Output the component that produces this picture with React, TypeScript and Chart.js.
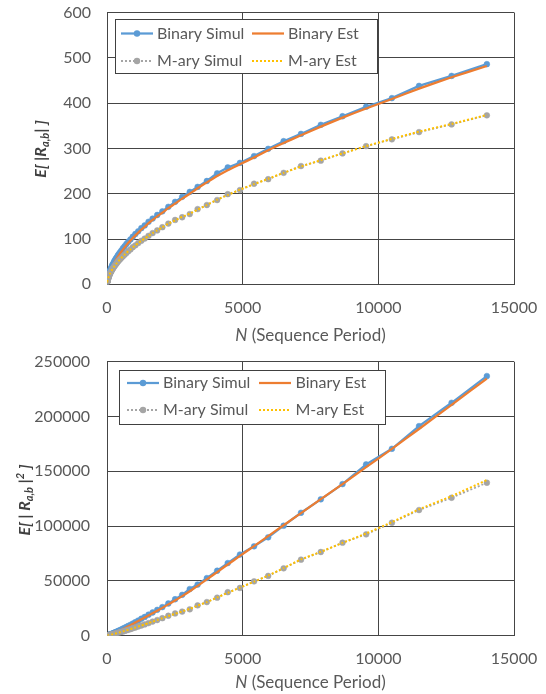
import React, { useEffect, useRef } from "react";
import { Chart, registerables } from "chart.js";

Chart.register(...registerables);

// Sequence period N (x values shared by all series)
const N = [10, 11, 12, 13, 15, 16, 18, 20, 22, 24, 27, 30, 33, 36, 40, 44, 48, 53, 58, 64, 71, 78, 86, 95, 105, 115, 127, 140, 154, 169, 186, 205, 225, 248, 272, 300, 330, 365, 400, 440, 485, 535, 590, 650, 715, 785, 865, 950, 1045, 1150, 1265, 1390, 1530, 1680, 1850, 2040, 2260, 2510, 2770, 3050, 3340, 3680, 4060, 4450, 4900, 5420, 5940, 6510, 7150, 7880, 8680, 9550, 10500, 11500, 12700, 14000];

// Top chart: E[|R_a,b|]
const binSimulAbs = [6, 6.5, 7, 7.5, 8, 8.5, 9, 10, 10.5, 11, 12, 13, 14, 15, 16, 17, 18, 19, 20, 21, 23, 24, 25, 27, 29, 30, 32, 34, 36, 38, 41, 43, 45, 48, 51, 54, 57, 60, 64, 67, 71, 75, 80, 84, 89, 94, 99, 105, 111, 117, 124, 130, 138, 145, 153, 161, 171, 182, 193, 204, 215, 228, 245, 258, 268, 283, 299, 316, 332, 352, 371, 392, 411, 438, 460, 486];
const binEstAbs = [5.5, 6, 6.5, 7, 7.5, 8, 8.5, 9.5, 10, 10.5, 11.5, 12.5, 13.5, 14.5, 15, 16, 17, 18, 19, 20, 21.5, 22.5, 24, 25.5, 27, 28.5, 30, 32, 34, 36, 38.5, 40.5, 43, 45.5, 48, 51, 54, 57.5, 61, 64.5, 68.5, 72.5, 77, 81.5, 86.5, 91.5, 96.5, 102, 108, 114, 121, 127, 135, 142, 150, 158, 168, 178, 189, 200, 212, 225, 239, 252, 265, 280, 296, 312, 329, 348, 368, 388, 409, 432, 457, 482];
const marySimulAbs = [5, 5, 5.5, 6, 6.5, 7, 7.5, 8, 8.5, 9, 9.5, 10.5, 11, 12, 12.5, 13.5, 14, 15, 16, 17, 18, 19, 20, 21.5, 23, 24, 25.5, 27, 28.5, 30, 32, 34, 35.5, 37.5, 40, 42, 44.5, 47, 50, 52.5, 55.5, 58.5, 62, 65.5, 69, 73, 77, 82, 86, 91, 96, 101, 107, 113, 119, 126, 134, 142, 148, 155, 166, 175, 186, 199, 208, 222, 232, 246, 261, 273, 289, 305, 320, 336, 353, 373];
const maryEstAbs = [5, 5, 5.5, 6, 6.5, 7, 7.5, 8, 8.5, 9, 9.5, 10.5, 11, 12, 12.5, 13.5, 14, 15, 16, 17, 18, 19, 20, 21.5, 23, 24, 25.5, 27, 28.5, 30, 32, 34, 35.5, 37.5, 40, 42, 44.5, 47, 50, 52.5, 55.5, 58.5, 62, 65.5, 69, 73, 77, 81.5, 86, 91, 96, 101, 107, 113, 119, 126, 134, 141, 149, 156, 165, 175, 187, 197, 209, 221, 233, 246, 260, 274, 289, 305, 321, 337, 354, 374];

// Bottom chart: E[|R_a,b|^2]
const binSimulSq = [36, 42, 49, 56, 64, 72, 81, 100, 110, 120, 145, 170, 195, 225, 255, 290, 325, 360, 400, 440, 530, 575, 625, 730, 840, 900, 1020, 1160, 1300, 1440, 1680, 1850, 2030, 2300, 2600, 2900, 3250, 3600, 4100, 4500, 5000, 5600, 6400, 7100, 7900, 8800, 9800, 11000, 12300, 13700, 15400, 17000, 19100, 21100, 23500, 26000, 29300, 33200, 37200, 42500, 46600, 52500, 59200, 66200, 74000, 81500, 89700, 100300, 112100, 124400, 138300, 156300, 170500, 191200, 212500, 236900];
const binEstSq = [32, 38, 44, 50, 58, 66, 75, 90, 100, 115, 135, 160, 185, 210, 240, 270, 300, 340, 380, 420, 480, 540, 600, 690, 780, 860, 960, 1080, 1220, 1380, 1550, 1750, 1950, 2200, 2450, 2750, 3100, 3450, 3900, 4300, 4800, 5400, 6100, 6800, 7600, 8500, 9500, 10600, 11900, 13300, 14900, 16500, 18400, 20400, 22700, 25300, 28500, 32000, 36000, 40500, 45400, 51300, 58000, 64900, 72700, 81700, 90800, 100700, 111800, 124500, 138300, 153700, 170400, 188600, 210600, 234600];
const marySimulSq = [25, 25, 30, 36, 42, 49, 56, 64, 72, 81, 90, 110, 121, 144, 156, 182, 196, 225, 256, 290, 325, 360, 400, 460, 530, 580, 650, 730, 810, 900, 1020, 1160, 1260, 1400, 1600, 1760, 1980, 2200, 2500, 2750, 3080, 3400, 3850, 4300, 4800, 5300, 5900, 6700, 7400, 8300, 9200, 10200, 11400, 12800, 14200, 15900, 18100, 20200, 21900, 24000, 27600, 30600, 34600, 39600, 43500, 49500, 54500, 61400, 69300, 76300, 84800, 92400, 103000, 114600, 125800, 139500];
const maryEstSq = [25, 25, 30, 36, 42, 49, 56, 64, 72, 81, 90, 110, 121, 144, 156, 182, 196, 225, 256, 290, 325, 360, 400, 460, 530, 580, 650, 730, 810, 900, 1020, 1160, 1260, 1400, 1600, 1760, 1980, 2200, 2500, 2750, 3080, 3400, 3850, 4300, 4800, 5300, 5900, 6650, 7400, 8300, 9200, 10200, 11400, 12700, 14200, 15900, 17900, 19900, 22100, 24400, 27300, 30600, 34800, 39000, 43800, 49200, 54800, 61600, 69500, 76500, 84600, 93200, 103600, 115300, 127300, 142000];

// Axis settings
const xMax = 15000;
const xStep = 5000;
const yMaxAbs = 600;
const yStepAbs = 100;
const yMaxSq = 250000;
const yStepSq = 50000;

const legendLabels = ["Binary Simul", "Binary Est", "M-ary Simul", "M-ary Est"];
const xTitleItalic = "N";
const xTitleRest = " (Sequence Period)";

const BLUE = "#5B9BD5";
const ORANGE = "#ED7D31";
const GRAY = "#A5A5A5";
const YELLOW = "#FFC000";
const TEXT = "#595959";
const GRID = "#454545";
const FONT = "Lato, 'Open Sans', sans-serif";

type Seg = { t: string; size: number; style: string; dy?: number };

function drawRich(ctx: CanvasRenderingContext2D, segs: Seg[], cx: number, cy: number, rotate: boolean, color: string) {
  ctx.save();
  ctx.translate(cx, cy);
  if (rotate) ctx.rotate(-Math.PI / 2);
  ctx.fillStyle = color;
  ctx.textBaseline = "middle";
  ctx.textAlign = "left";
  let total = 0;
  for (const s of segs) {
    ctx.font = `${s.style} ${s.size}px ${FONT}`;
    total += ctx.measureText(s.t).width;
  }
  let x = -total / 2;
  for (const s of segs) {
    ctx.font = `${s.style} ${s.size}px ${FONT}`;
    ctx.fillText(s.t, x, s.dy || 0);
    x += ctx.measureText(s.t).width;
  }
  ctx.restore();
}

type Deco = {
  yTitle: Seg[];
  yTitleX: number;
  yTitleY: number;
  xTitleY: number;
  box: [number, number, number, number];
  row1: number;
  row2: number;
  col1: [number, number, number];
  col2: [number, number, number];
};

function decoPlugin(d: Deco) {
  return {
    id: "deco",
    afterDraw(chart: any) {
      const ctx: CanvasRenderingContext2D = chart.ctx;
      const area = chart.chartArea;
      // axis titles
      drawRich(ctx, d.yTitle, d.yTitleX, d.yTitleY, true, "#404040");
      drawRich(
        ctx,
        [
          { t: xTitleItalic, size: 17, style: "italic" },
          { t: xTitleRest, size: 17, style: "normal" },
        ],
        (area.left + area.right) / 2,
        d.xTitleY,
        false,
        TEXT
      );
      // legend
      const [bx, by, bw, bh] = d.box;
      ctx.save();
      ctx.fillStyle = "#ffffff";
      ctx.fillRect(bx, by, bw, bh);
      ctx.strokeStyle = "#404040";
      ctx.lineWidth = 1;
      ctx.strokeRect(bx + 0.5, by + 0.5, bw - 1, bh - 1);
      const items = [
        { label: legendLabels[0], color: BLUE, dash: [] as number[], marker: true, row: d.row1, col: d.col1 },
        { label: legendLabels[1], color: ORANGE, dash: [] as number[], marker: false, row: d.row1, col: d.col2 },
        { label: legendLabels[2], color: GRAY, dash: [2, 2], marker: true, row: d.row2, col: d.col1 },
        { label: legendLabels[3], color: YELLOW, dash: [2, 2], marker: false, row: d.row2, col: d.col2 },
      ];
      for (const it of items) {
        const [x0, x1, tx] = it.col;
        ctx.beginPath();
        ctx.setLineDash(it.dash);
        ctx.strokeStyle = it.color;
        ctx.lineWidth = it.dash.length ? 2 : 2.25;
        ctx.moveTo(x0, it.row);
        ctx.lineTo(x1, it.row);
        ctx.stroke();
        ctx.setLineDash([]);
        if (it.marker) {
          ctx.beginPath();
          ctx.fillStyle = it.color;
          ctx.arc((x0 + x1) / 2, it.row, 3.2, 0, Math.PI * 2);
          ctx.fill();
        }
        ctx.fillStyle = TEXT;
        ctx.font = `16px ${FONT}`;
        ctx.textBaseline = "middle";
        ctx.textAlign = "left";
        ctx.fillText(it.label, tx, it.row);
      }
      ctx.restore();
    },
  };
}

function pts(ys: number[]) {
  return N.map((x, i) => ({ x, y: ys[i] }));
}

function makeConfig(
  bSim: number[],
  bEst: number[],
  mSim: number[],
  mEst: number[],
  yMax: number,
  yStep: number,
  padTop: number,
  xHeight: number,
  yPad: number,
  deco: Deco
): any {
  const tickFont = { family: FONT, size: 16 };
  return {
    type: "scatter",
    data: {
      datasets: [
        {
          label: legendLabels[3],
          data: pts(mEst),
          showLine: true,
          borderColor: YELLOW,
          borderWidth: 2,
          borderDash: [2, 2],
          pointRadius: 0,
          tension: 0.15,
        },
        {
          label: legendLabels[2],
          data: pts(mSim),
          showLine: true,
          borderColor: GRAY,
          backgroundColor: GRAY,
          borderWidth: 1.75,
          borderDash: [2, 2],
          pointRadius: 2.9,
          pointBorderWidth: 0.5,
          pointBackgroundColor: GRAY,
          pointBorderColor: GRAY,
        },
        {
          label: legendLabels[1],
          data: pts(bEst),
          showLine: true,
          borderColor: ORANGE,
          borderWidth: 2.25,
          pointRadius: 0,
          tension: 0.15,
        },
        {
          label: legendLabels[0],
          data: pts(bSim),
          showLine: true,
          borderColor: BLUE,
          backgroundColor: BLUE,
          borderWidth: 2.25,
          pointRadius: 2.9,
          pointBorderWidth: 0.5,
          pointBackgroundColor: BLUE,
          pointBorderColor: BLUE,
        },
      ],
    },
    options: {
      animation: false,
      responsive: false,
      maintainAspectRatio: false,
      layout: { padding: { top: padTop, right: 32, left: 0, bottom: 0 } },
      plugins: { legend: { display: false }, tooltip: { enabled: false }, title: { display: false } },
      scales: {
        x: {
          type: "linear",
          min: 0,
          max: xMax,
          ticks: {
            stepSize: xStep,
            color: TEXT,
            font: tickFont,
            padding: 14,
            maxRotation: 0,
            callback: (v: number) => String(v),
          },
          grid: { color: GRID, lineWidth: 1, drawTicks: false },
          border: { color: GRID, width: 1 },
          afterFit: (s: any) => {
            s.height = xHeight;
            s.paddingLeft = 0;
            s.paddingRight = 0;
          },
        },
        y: {
          type: "linear",
          min: 0,
          max: yMax,
          ticks: {
            stepSize: yStep,
            color: TEXT,
            font: tickFont,
            padding: yPad,
            callback: (v: number) => String(v),
          },
          grid: { color: GRID, lineWidth: 1, drawTicks: false },
          border: { color: GRID, width: 1 },
          afterFit: (s: any) => {
            s.width = 107;
            s.paddingTop = 0;
            s.paddingBottom = 0;
          },
        },
      },
    },
    plugins: [decoPlugin(deco)],
  };
}

const W = 546;
const H = 347;

export default function App() {
  const topRef = useRef<HTMLCanvasElement | null>(null);
  const botRef = useRef<HTMLCanvasElement | null>(null);

  useEffect(() => {
    const topDeco: Deco = {
      yTitle: [
        { t: "E[ |R", size: 16, style: "italic bold" },
        { t: "a,b", size: 11, style: "italic bold", dy: 4 },
        { t: "| ]", size: 16, style: "italic bold" },
      ],
      yTitleX: 41,
      yTitleY: 149,
      xTitleY: 336,
      box: [115, 19, 263, 55],
      row1: 33.5,
      row2: 61,
      col1: [121, 153, 157],
      col2: [252, 284, 288],
    };
    const botDeco: Deco = {
      yTitle: [
        { t: "E[ | R", size: 16, style: "italic bold" },
        { t: "a,b", size: 11, style: "italic bold", dy: 4 },
        { t: " |", size: 16, style: "italic bold" },
        { t: "2", size: 11, style: "italic bold", dy: -5 },
        { t: " ]", size: 16, style: "italic bold" },
      ],
      yTitleX: 25,
      yTitleY: 153,
      xTitleY: 336,
      box: [119, 23, 267, 55],
      row1: 36,
      row2: 63,
      col1: [127, 159, 163],
      col2: [259, 291, 295.5],
    };
    const c1 = new Chart(
      topRef.current as HTMLCanvasElement,
      makeConfig(binSimulAbs, binEstAbs, marySimulAbs, maryEstAbs, yMaxAbs, yStepAbs, 12.5, 62.7, 16, topDeco)
    );
    const c2 = new Chart(
      botRef.current as HTMLCanvasElement,
      makeConfig(binSimulSq, binEstSq, marySimulSq, maryEstSq, yMaxSq, yStepSq, 14.7, 58.4, 17, botDeco)
    );
    return () => {
      c1.destroy();
      c2.destroy();
    };
  }, []);

  return (
    <div style={{ position: "absolute", left: 0, top: 0, width: W, height: 2 * H, background: "#ffffff" }}>
      <canvas ref={topRef} width={W} height={H} style={{ display: "block", width: W, height: H }} />
      <canvas ref={botRef} width={W} height={H} style={{ display: "block", width: W, height: H }} />
    </div>
  );
}
